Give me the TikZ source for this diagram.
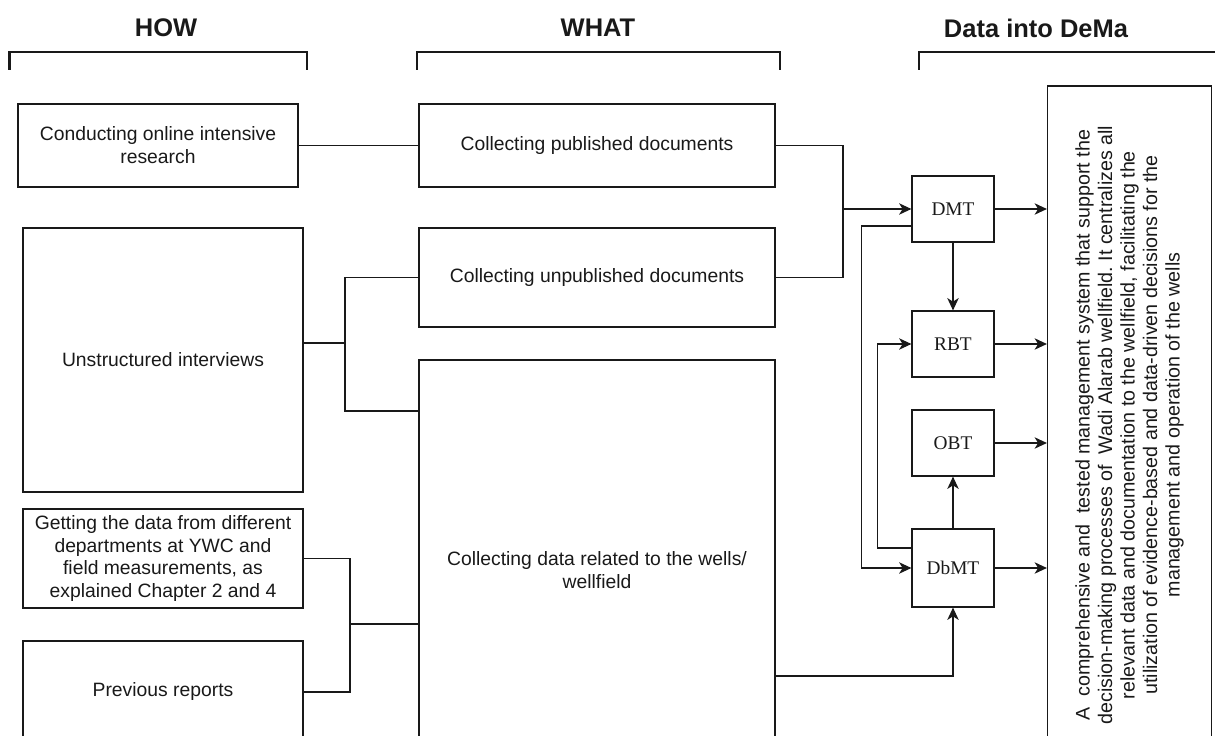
\documentclass[tikz,border=0pt]{standalone}
\usepackage{fontspec}
\setmainfont{Liberation Sans}
\newfontfamily\dmserif{Liberation Serif}
\usetikzlibrary{arrows.meta,calc}
\definecolor{dmink}{RGB}{25,25,25}
\frenchspacing

\begin{document}
\begin{tikzpicture}[x=0.02cm,y=-0.02cm,line width=0.7pt,color=dmink,
  every node/.style={font=\fontsize{11}{13}\selectfont},
  box/.style={draw,rectangle,align=center,inner sep=2pt},
  howbox/.style={box,minimum width=5.6cm},
  whatbox/.style={box,minimum width=7.12cm},
  toolbox/.style={box,minimum width=1.64cm,minimum height=1.32cm,font=\dmserif\fontsize{11}{13}\selectfont},
  head/.style={font=\bfseries\fontsize{14.5}{17}\selectfont},
  bracket/.style={line width=1.4pt},
  arr/.style={-{Stealth[length=7pt,width=6.5pt,inset=2pt]}}]
  \useasboundingbox (0,0) rectangle (1215,736);
  \clip (0,0) rectangle (1215,736);

  \node[head] (how) at (166,28) {HOW};
  \node[head] (what) at (598,28) {WHAT};
  \node[head] (dema) at (1036,28) {Data into DeMa};
  \draw[bracket] (9.5,70) |- (307,52) -- (307,70);
  \draw[bracket] (417,70) |- (780,52) -- (780,70);
  \draw[bracket] (919,70) |- (1230,52) -- (1230,70);

  \node[howbox,minimum height=1.66cm] (conduct) at (158,145.5) {Conducting online intensive\\research};
  \node[howbox,minimum height=5.28cm] (unstruct) at (163,360) {Unstructured interviews};
  \node[howbox,minimum height=1.98cm] (getting) at (163,558.5) {Getting the data from different\\departments at YWC and\\field measurements, as\\explained Chapter 2 and 4};
  \node[howbox,minimum height=2.04cm] (previous) at (163,692) {Previous reports};

  \node[whatbox,minimum height=1.66cm] (published) at (597,145.5) {Collecting published documents};
  \node[whatbox,minimum height=1.98cm] (unpublished) at (597,277.5) {Collecting unpublished documents};
  \node[whatbox,minimum height=8.4cm] (colldata) at (597,570) {Collecting data related to the wells/\\wellfield};

  \node[toolbox] (dmt) at (953,209) {DMT};
  \node[toolbox] (rbt) at (953,344) {RBT};
  \node[toolbox] (obt) at (953,443) {OBT};
  \node[toolbox,minimum height=1.56cm] (dbmt) at (953,568) {DbMT};

  \node[box,minimum width=3.28cm,minimum height=13.56cm] (desc) at (1129.5,425) {};
  \node[rotate=90,align=center,font=\fontsize{11.2}{12.8}\selectfont] (desctext) at (desc.center)
    {A\ \ comprehensive and\ \ tested management system that support the\\
     decision-making processes of\ \ Wadi Alarab wellfield. It centralizes all\\
     relevant data and documentation to the wellfield, facilitating the\\
     utilization of evidence-based and data-driven decisions for the\\
     management and operation of the wells};

  \coordinate (j1) at (345,343);
  \coordinate (j2) at (350,624);
  \coordinate (j3) at (843,209);

  \draw (conduct) -- (published);
  \draw (unstruct.east |- j1) -- (j1) |- (unpublished);
  \draw (j1) |- ($(colldata.west)+(0,-159)$);
  \draw (getting) -| (j2) -- (j2 -| colldata.west);
  \draw (previous) -| (j2);

  \draw (published) -| (j3);
  \draw (unpublished) -| (j3);
  \draw[arr] (j3) -- (dmt);
  \draw[arr] (dmt) -- (rbt);
  \draw[arr] ($(dmt.west)+(0,17)$) -- ++(-50,0) |- (dbmt);
  \draw[arr] ($(dbmt.west)+(0,-20)$) -- ++(-34,0) |- (rbt);
  \draw[arr] (dbmt) -- (obt);
  \draw[arr] ($(colldata.east)+(0,106)$) -| (dbmt);
  \foreach \n in {dmt,rbt,obt,dbmt}
    \draw[arr] (\n) -- (\n -| desc.west);
\end{tikzpicture}
\end{document}
